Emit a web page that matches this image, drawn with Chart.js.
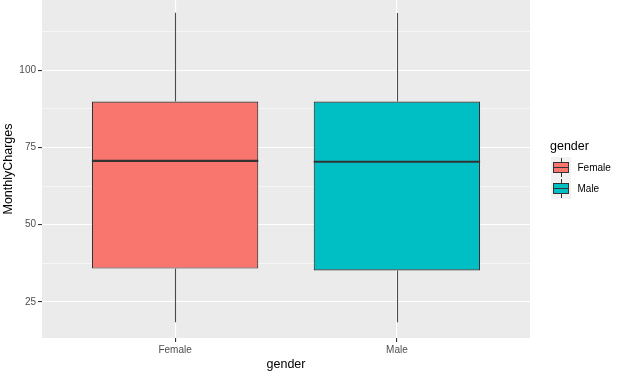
<!DOCTYPE html>
<html>
<head>
<meta charset="utf-8">
<script src="https://cdn.jsdelivr.net/npm/chart.js@4"></script>
<style>
  html, body { margin: 0; padding: 0; background: #fff; }
  canvas { display: block; }
</style>
</head>
<body>
<canvas id="chartCanvas" width="620" height="376"></canvas>
<script>
// boxplot stats
const categories = ['Female', 'Male'];
const lowerWhisker = [18.4, 18.4];
const q1 = [35.8, 35.2];
const medians = [70.7, 70.4];
const q3 = [89.9, 89.9];
const upperWhisker = [118.7, 118.6];
const fillColors = ['#F8766D', '#00BFC4'];
const yMajor = [25, 50, 75, 100];
const yMinor = [37.5, 62.5, 87.5, 112.5];
const xPositions = [1, 2];

const FONT = "'Liberation Sans', Arial, sans-serif";
const LINE = '#333333';

// grey panel behind everything
const panelBg = {
    id: 'panelBg',
    beforeDraw(chart) {
        const a = chart.chartArea, ctx = chart.ctx;
        ctx.save();
        ctx.fillStyle = '#EBEBEB';
        ctx.fillRect(a.left, a.top, a.right - a.left, a.bottom - a.top);
        ctx.restore();
    }
};

// whiskers under the boxes, medians on top
const boxExtras = {
    id: 'boxExtras',
    beforeDatasetsDraw(chart) {
        const x = chart.scales.x, y = chart.scales.y, ctx = chart.ctx;
        ctx.save();
        ctx.strokeStyle = '#4a4a4a';
        ctx.lineWidth = 1.1;
        xPositions.forEach((p, i) => {
            const px = Math.round(x.getPixelForValue(p)) + 0.5;
            ctx.beginPath();
            ctx.moveTo(px, y.getPixelForValue(upperWhisker[i]));
            ctx.lineTo(px, y.getPixelForValue(q3[i]));
            ctx.moveTo(px, y.getPixelForValue(q1[i]));
            ctx.lineTo(px, y.getPixelForValue(lowerWhisker[i]));
            ctx.stroke();
        });
        ctx.restore();
    },
    afterDatasetsDraw(chart) {
        const y = chart.scales.y, ctx = chart.ctx;
        const meta = chart.getDatasetMeta(0);
        ctx.save();
        ctx.strokeStyle = LINE;
        ctx.lineWidth = 2.2;
        meta.data.forEach((bar, i) => {
            const half = bar.width / 2;
            const py = y.getPixelForValue(medians[i]);
            ctx.beginPath();
            ctx.moveTo(bar.x - half, py);
            ctx.lineTo(bar.x + half, py);
            ctx.stroke();
        });
        ctx.restore();
    }
};

// ggplot style legend with boxplot keys
const boxLegend = {
    id: 'boxLegend',
    afterDraw(chart) {
        const ctx = chart.ctx;
        const left = 551, top = 157, kw = 20, kh = 21;
        ctx.save();
        ctx.fillStyle = '#000';
        ctx.font = '12.5px ' + FONT;
        ctx.textBaseline = 'alphabetic';
        ctx.fillText('gender', 550, 150);
        categories.forEach((c, i) => {
            const ky = top + i * kh;
            ctx.fillStyle = '#F2F2F2';
            ctx.fillRect(left, ky, kw, kh);
            const cx = left + kw / 2 + 0.5;
            ctx.strokeStyle = LINE;
            ctx.lineWidth = 1;
            ctx.beginPath();
            ctx.moveTo(cx, ky + 1);
            ctx.lineTo(cx, ky + kh - 1);
            ctx.stroke();
            ctx.fillStyle = fillColors[i];
            ctx.fillRect(left + 2, ky + 5, kw - 4, kh - 10);
            ctx.strokeRect(left + 2.5, ky + 5.5, kw - 5, kh - 11);
            ctx.beginPath();
            ctx.moveTo(left + 2, ky + kh / 2);
            ctx.lineTo(left + kw - 2, ky + kh / 2);
            ctx.stroke();
            ctx.fillStyle = '#000';
            ctx.font = '10px ' + FONT;
            ctx.textBaseline = 'middle';
            ctx.fillText(c, 577.5, ky + kh / 2 + 0.5);
        });
        ctx.restore();
    }
};

const isMajor = v => yMajor.includes(v);

new Chart(document.getElementById('chartCanvas'), {
    type: 'bar',
    data: {
        datasets: [{
            data: xPositions.map((p, i) => ({ x: p, y: [q1[i], q3[i]] })),
            backgroundColor: fillColors,
            borderColor: LINE,
            borderWidth: 1.1,
            borderSkipped: false,
            barPercentage: 0.75,
            categoryPercentage: 1
        }]
    },
    options: {
        responsive: false,
        animation: false,
        events: [],
        layout: { padding: { top: 0, right: 90, bottom: 0, left: 0 } },
        plugins: { legend: { display: false }, tooltip: { enabled: false } },
        scales: {
            x: {
                type: 'linear',
                min: 0.4,
                max: 2.6,
                offset: false,
                afterBuildTicks: s => { s.ticks = xPositions.map(v => ({ value: v })); },
                afterFit: s => { s.height = 38; s.paddingLeft = 0; s.paddingRight = 0; },
                ticks: {
                    autoSkip: false,
                    maxRotation: 0,
                    padding: 2,
                    color: '#4D4D4D',
                    font: { family: FONT, size: 10 },
                    callback: v => categories[xPositions.indexOf(v)] ?? ''
                },
                grid: { offset: false, color: '#FFFFFF', lineWidth: 1.1, tickColor: LINE, tickLength: 4, tickWidth: 1.1 },
                border: { display: false },
                title: {
                    display: true, text: 'gender', color: '#000',
                    font: { family: FONT, size: 12.5, lineHeight: 1.2 },
                    padding: { top: 0, bottom: 4 }
                }
            },
            y: {
                type: 'linear',
                min: 13.3,
                max: 122.8,
                afterBuildTicks: s => { s.ticks = yMajor.concat(yMinor).sort((a, b) => a - b).map(v => ({ value: v })); },
                afterFit: s => { s.width = 42; s.paddingTop = 0; s.paddingBottom = 0; },
                ticks: {
                    autoSkip: false,
                    padding: 2,
                    color: '#4D4D4D',
                    font: { family: FONT, size: 10 },
                    callback: v => isMajor(v) ? String(v) : ''
                },
                grid: {
                    color: '#FFFFFF',
                    lineWidth: c => (c.tick && isMajor(c.tick.value)) ? 1.1 : 0.55,
                    tickColor: c => (c.tick && isMajor(c.tick.value)) ? LINE : 'rgba(0,0,0,0)',
                    tickLength: 4,
                    tickWidth: 1.1
                },
                border: { display: false },
                title: {
                    display: true, text: 'MonthlyCharges', color: '#000',
                    font: { family: FONT, size: 12.5, lineHeight: 1.2 },
                    padding: { top: 1, bottom: 0 }
                }
            }
        }
    },
    plugins: [panelBg, boxExtras, boxLegend]
});
</script>
</body>
</html>
